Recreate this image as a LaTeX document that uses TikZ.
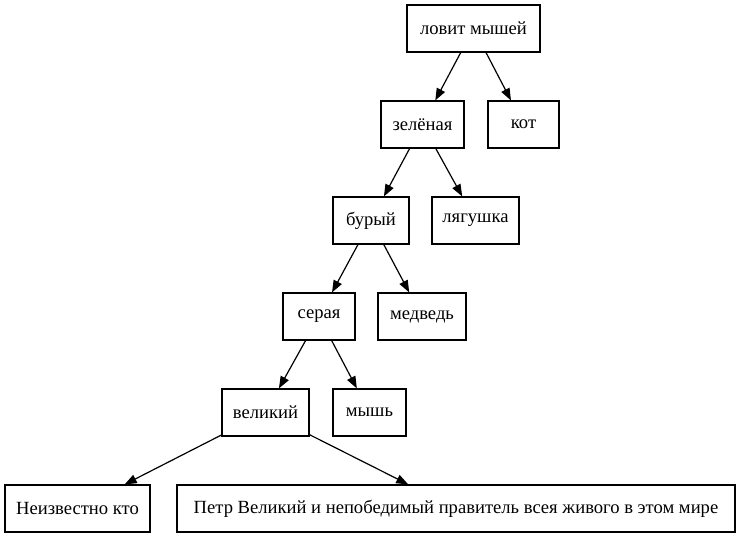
\documentclass[tikz,border=0pt]{standalone}
\usepackage{fontspec}
\setmainfont{Liberation Serif}
\usetikzlibrary{arrows.meta}
\begin{document}
\begin{tikzpicture}[x=1pt,y=-1pt,
  box/.style={draw, line width=1.2pt, rectangle, inner sep=0pt, minimum height=47pt, font=\fontsize{18.6}{20}\selectfont},
  edge/.style={line width=1.2pt, -{Triangle[length=12pt,width=9pt]}}]
\useasboundingbox (0,0) rectangle (740,539);
\node[box, minimum width=133pt] (a) at (473.5,28.5) {ловит мышей};
\node[box, minimum width=83pt] (b) at (422.5,124.5) {зелёная};
\node[box, minimum width=71pt] (c) at (523.5,124.5) {кот};
\node[box, minimum width=76pt] (d) at (371,220.5) {бурый};
\node[box, minimum width=87pt] (e) at (475.5,220.5) {лягушка};
\node[box, minimum width=72pt] (f) at (319,316.5) {серая};
\node[box, minimum width=88pt] (g) at (422,316.5) {медведь};
\node[box, minimum width=87pt] (h) at (265.5,412.5) {великий};
\node[box, minimum width=73pt] (i) at (369.5,412.5) {мышь};
\node[box, minimum width=145pt] (j) at (77.5,508.5) {Неизвестно кто};
\node[box, minimum width=558pt] (k) at (456,508.5) {Петр Великий и непобедимый правитель всея живого в этом мире};
\draw[edge] (a) -- (b);
\draw[edge] (a) -- (c);
\draw[edge] (b) -- (d);
\draw[edge] (b) -- (e);
\draw[edge] (d) -- (f);
\draw[edge] (d) -- (g);
\draw[edge] (f) -- (h);
\draw[edge] (f) -- (i);
\draw[edge] (h) -- (j);
\draw[edge] (h) -- (k);
\end{tikzpicture}
\end{document}
